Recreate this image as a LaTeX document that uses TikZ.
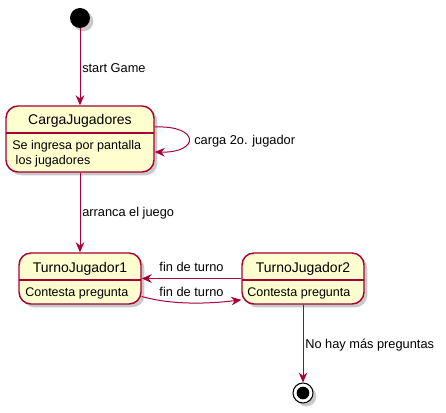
\documentclass[tikz,border=0pt]{standalone}
\usepackage{fontspec}
\setmainfont{Liberation Sans}
\usetikzlibrary{arrows.meta,shadows}
\definecolor{umlred}{HTML}{A80036}
\definecolor{umlfill}{HTML}{FEFECE}

\begin{document}
\begin{tikzpicture}[x=0.75pt,y=-0.75pt,
  statebox/.style={draw=umlred,line width=1.1pt,fill=umlfill,rounded corners=9pt,inner sep=0pt,
    drop shadow={shadow xshift=2.5pt,shadow yshift=-2.5pt,opacity=0.3,fill=black!70}},
  sep/.style={draw=umlred,line width=1.1pt},
  title/.style={font=\fontsize{10.5}{12}\selectfont,inner sep=0pt},
  body/.style={font=\fontsize{9.4}{11.25}\selectfont,inner sep=0pt,anchor=west,align=left},
  lbl/.style={font=\fontsize{9.6}{11}\selectfont,inner sep=0pt},
  trans/.style={draw=umlred,line width=0.75pt,-{Stealth[length=7.5pt,width=6.5pt,inset=2.5pt]}}]
\useasboundingbox (0,0) rectangle (446,413);
\node[circle,fill=black,minimum size=15pt,inner sep=0pt,drop shadow={shadow xshift=2.5pt,shadow yshift=-2.5pt,opacity=0.3,fill=black!70}] (start) at (80,18) {};
\node[statebox,minimum width=111pt,minimum height=49.5pt] (carga) at (80,139) {};
\draw[sep] (6,133) -- (154,133);
\node[title] (cargaT) at (80,121) {CargaJugadores};
\node[body] (cargaB) at (12,153.5) {Se ingresa por pantalla\\\ los jugadores};
\node[statebox,minimum width=91.5pt,minimum height=38.25pt] (turno1) at (80,278.5) {};
\draw[sep] (19,280) -- (141,280);
\node[title] (turno1T) at (80,268.5) {TurnoJugador1};
\node[body] (turno1B) at (25,293) {Contesta pregunta};
\node[statebox,minimum width=91.5pt,minimum height=38.25pt] (turno2) at (303,278.5) {};
\draw[sep] (242,280) -- (364,280);
\node[title] (turno2T) at (303,268.5) {TurnoJugador2};
\node[body] (turno2B) at (247,293) {Contesta pregunta};
\node[circle,draw=black,line width=0.8pt,fill=white,minimum size=15pt,inner sep=0pt,drop shadow={shadow xshift=2.5pt,shadow yshift=-2.5pt,opacity=0.3,fill=black!70}] (fin) at (303,393) {};
\node[circle,fill=black,minimum size=9.5pt,inner sep=0pt] (finDot) at (fin) {};
\draw[trans] (start.south) -- (carga.north);
\node[lbl,anchor=west] (startL) at (82,68) {start Game};
\draw[trans] ([yshift=9pt]carga.east) .. controls (200,125) and (200,153) .. ([yshift=-9.75pt]carga.east);
\node[lbl,anchor=west] (cargaL) at (194,141) {carga 2o. jugador};
\draw[trans] (carga.south) -- (turno1.north);
\node[lbl,anchor=west] (arrancaL) at (82,213) {arranca el juego};
\draw[trans] (turno2.west) -- (turno1.east);
\node[lbl] (finTurnoA) at (191.5,267) {fin de turno};
\draw[trans] ([yshift=-13.5pt]turno1.east) .. controls (172,305) and (208,304) .. ([yshift=-16pt]turno2.west);
\node[lbl] (finTurnoB) at (191.5,291.5) {fin de turno};
\draw[trans] (turno2.south) -- (fin.north);
\node[lbl,anchor=west] (noHayL) at (305,345) {No hay más preguntas};
\end{tikzpicture}
\end{document}
